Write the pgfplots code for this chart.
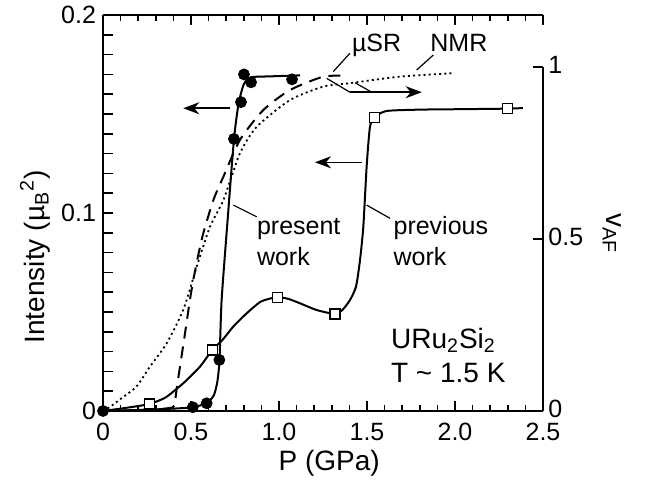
\documentclass[border=0pt]{standalone}
\usepackage{fontspec}
\setmainfont{Liberation Sans}
\usepackage{pgfplots}
\pgfplotsset{compat=1.18}
\usetikzlibrary{arrows.meta}
\newcommand\ann{\fontsize{12.5}{15}\selectfont}
\newcommand\lab{\fontsize{14}{17}\selectfont}
\begin{document}
\begin{tikzpicture}
% right axis (v_AF): muSR and NMR
\begin{axis}[name=right, at={(0,0)}, anchor=south west,
  scale only axis, width=220pt, height=172pt,
  xmin=0, xmax=2.5, ymin=0, ymax=1,
  axis x line=none, axis y line*=right,
  axis line style={line width=1pt},
  clip=false,
  ytick={0,0.5,1}, yticklabels={0,0.5,1},
  tick align=inside, major tick length=5pt,
  tick style={line width=0.8pt, black},
  yticklabel style={font=\ann, inner sep=2.5pt, yshift=1pt},
]
% muSR (dashed)
\addplot[black, line width=1pt, dash pattern=on 6pt off 4pt, smooth, tension=0.4] coordinates {
 (0,0) (0.2,0.003) (0.35,0.007) (0.40,0.012) (0.41,0.03) (0.42,0.07) (0.4375,0.129)
 (0.466,0.226) (0.494,0.323) (0.513,0.381) (0.540,0.45) (0.570,0.517) (0.627,0.613)
 (0.684,0.681) (0.778,0.788) (0.911,0.875) (1.0625,0.933) (1.252,0.972) (1.385,0.974)
};
% NMR (dotted)
\addplot[black, line width=0.9pt, dash pattern=on 1pt off 1.6pt, smooth, tension=0.4] coordinates {
 (0,0) (0.04,0.012) (0.1,0.035) (0.19,0.071) (0.267,0.129) (0.362,0.197) (0.456,0.294)
 (0.532,0.419) (0.608,0.536) (0.684,0.613) (0.778,0.749) (0.873,0.826) (1.0625,0.904)
 (1.252,0.943) (1.403,0.953) (1.6875,0.972) (1.99,0.982)
};
\node[font=\lab, rotate=-90, anchor=center, inner sep=0pt] at (axis description cs:1.157,0.517) {v\textsubscript{AF}};
\end{axis}
% main axis (intensity)
\begin{axis}[name=main, at={(right.south west)}, anchor=south west,
  scale only axis, width=220pt, height=198pt,
  xmin=0, xmax=2.5, ymin=0, ymax=0.2,
  axis x line*=box, axis y line*=left,
  axis line style={line width=1pt},
  clip=false,
  xtick={0,0.5,1,1.5,2,2.5}, xticklabels={0,0.5,1.0,1.5,2.0,2.5},
  minor x tick num=4,
  ytick={0,0.01,0.02,0.03,0.04,0.05,0.06,0.07,0.08,0.09,0.1,0.11,0.12,0.13,0.14,0.15,0.16,0.17,0.18,0.19,0.2},
  yticklabels={0,{},{},{},{},{},{},{},{},{},0.1,{},{},{},{},{},{},{},{},{},0.2},
  tick align=inside, major tick length=5pt, minor tick length=3pt,
  tick style={line width=0.8pt, black},
  ticklabel style={font=\ann},
  xticklabel style={yshift=-2.5pt},
  xlabel={P (GPa)},
  xlabel style={font=\lab, at={(axis description cs:0.514,-0.131)}, anchor=center},
  ylabel={Intensity (\textmu\textsubscript{B}\textsuperscript{2})},
  ylabel style={font=\lab, at={(axis description cs:-0.1545,0.389)}, anchor=center},
]
% previous work line
\addplot[black, line width=1pt, smooth, tension=0.4] coordinates {
 (0,0) (0.1,0.0012) (0.2,0.0025) (0.263,0.0035) (0.31,0.005) (0.362,0.0072) (0.456,0.014)
 (0.551,0.0224) (0.621,0.0308) (0.68,0.036) (0.74,0.0426) (0.816,0.0493) (0.892,0.055)
 (0.95,0.0568) (0.99,0.0574) (1.05,0.0567) (1.119,0.0544) (1.214,0.051) (1.318,0.049)
 (1.36,0.051) (1.403,0.056) (1.4375,0.0628) (1.46,0.076) (1.479,0.093) (1.498,0.1234)
 (1.517,0.1436) (1.544,0.1483) (1.61,0.1515) (1.8,0.1522) (2.0,0.1524) (2.299,0.1527) (2.386,0.1530)
};
% present work line
\addplot[black, line width=1pt, smooth, tension=0.4] coordinates {
 (0,0) (0.2,0.0005) (0.4,0.0012) (0.51,0.0019) (0.59,0.004) (0.63,0.008) (0.65,0.015)
 (0.662,0.026) (0.674,0.056) (0.708,0.0965) (0.744,0.137) (0.77,0.155) (0.80,0.165)
 (0.84,0.1685) (0.95,0.169) (1.12,0.1695)
};
% previous work squares
\addplot[only marks, mark=square*, mark size=2.5pt, mark options={fill=white, draw=black, line width=0.6pt}] coordinates {
 (0.263,0.0035) (0.621,0.0308) (0.990,0.0574) (1.318,0.049) (1.544,0.1483) (2.299,0.1527)
};
% present work circles
\addplot[only marks, mark=*, mark size=2.75pt, black] coordinates {
 (0,0) (0.51,0.0019) (0.589,0.0039) (0.661,0.0258) (0.744,0.1374) (0.784,0.156)
 (0.801,0.170) (0.841,0.166) (1.074,0.1675)
};
% annotations
\node[anchor=base west, font=\ann, inner sep=0pt] at (axis cs:1.413,0.1815) {\textmu SR};
\node[anchor=base west, font=\ann, inner sep=0pt] at (axis cs:1.858,0.1815) {NMR};
\draw[line width=0.6pt] (axis cs:1.403,0.1807) -- (axis cs:1.3085,0.1714);
\draw[line width=0.6pt] (axis cs:1.877,0.1798) -- (axis cs:1.782,0.1722);
\draw[line width=0.6pt] (axis cs:1.271,0.168) -- (axis cs:1.403,0.161);
\draw[line width=0.6pt] (axis cs:1.432,0.1658) -- (axis cs:1.527,0.161);
\draw[line width=0.8pt, -{Stealth[length=8pt,width=6pt,inset=2.5pt]}] (axis cs:1.403,0.161) -- (axis cs:1.811,0.161);
\draw[line width=0.8pt, -{Stealth[length=8pt,width=6pt,inset=2.5pt]}] (axis cs:0.7216,0.1529) -- (axis cs:0.456,0.1529);
\draw[line width=0.8pt, -{Stealth[length=8pt,width=6pt,inset=2.5pt]}] (axis cs:1.47,0.1256) -- (axis cs:1.2045,0.1256);
\draw[line width=0.6pt] (axis cs:0.740,0.104) -- (axis cs:0.873,0.0981);
\draw[line width=0.6pt] (axis cs:1.498,0.104) -- (axis cs:1.631,0.0973);
\node[anchor=base west, font=\ann, inner sep=0pt] at (axis cs:0.873,0.0889) {present};
\node[anchor=base west, font=\ann, inner sep=0pt] at (axis cs:0.873,0.0737) {work};
\node[anchor=base west, font=\ann, inner sep=0pt] at (axis cs:1.649,0.0889) {previous};
\node[anchor=base west, font=\ann, inner sep=0pt] at (axis cs:1.649,0.0737) {work};
\node[anchor=base west, font=\lab, inner sep=0pt] at (axis cs:1.6347,0.0317) {URu\textsubscript{2}Si\textsubscript{2}};
\node[anchor=base west, font=\lab, inner sep=0pt] at (axis cs:1.6347,0.0143) {T {\char"7E} 1.5 K};
\end{axis}
\pgfresetboundingbox
\path[use as bounding box] ([xshift=-51.5pt,yshift=-37pt]main.south west) rectangle ([xshift=52pt,yshift=7.5pt]main.north east);
\end{tikzpicture}
\end{document}
